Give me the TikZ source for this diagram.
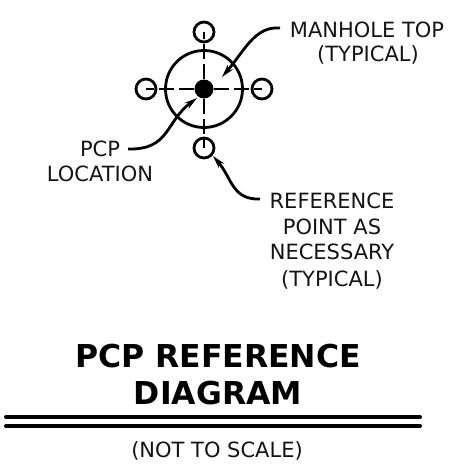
\documentclass[tikz,border=0pt]{standalone}
\usepackage{fontspec}
\setmainfont{DejaVu Sans}
\usetikzlibrary{arrows.meta}
\begin{document}
\begin{tikzpicture}[x=1pt,y=-1pt,
  lbl/.style={inner sep=0pt,font=\fontsize{21pt}{24pt}\selectfont,text=black!92},
  ttl/.style={inner sep=0pt,font=\fontsize{31.5pt}{36pt}\selectfont\bfseries},
  ring/.style={circle,draw,line width=2.8pt,inner sep=0pt,minimum size=#1},
  center line/.style={line width=2.6pt,dash pattern=on 15pt off 5pt on 15pt off 5pt},
  leader/.style={line width=2.8pt,-{Stealth[length=13pt,width=7pt]}},
  rule/.style={line width=4pt,line cap=round}]
\useasboundingbox (0,0) rectangle (448,471);
\node[ring=77pt] (mh) at (204,89) {};
\node[circle,fill=black,inner sep=0pt,minimum size=19pt] (pcp) at (204,89) {};
\node[ring=20pt] (rt) at (204,32) {};
\node[ring=20pt] (rl) at (146,89) {};
\node[ring=20pt] (rr) at (262,89) {};
\node[ring=20pt] (rb) at (204,148) {};
\draw[center line] (pcp) -- (rt.center);
\draw[center line] (pcp) -- (rl.center);
\draw[center line] (pcp) -- (rr.center);
\draw[center line] (pcp) -- (rb.center);
\node[lbl] (m1) at (367,30) {MANHOLE TOP};
\node[lbl] (m2) at (368,55) {(TYPICAL)};
\node[lbl] (p1) at (100,149) {PCP};
\node[lbl] (p2) at (100,174) {LOCATION};
\node[lbl] (r1) at (332,201) {REFERENCE};
\node[lbl] (r2) at (332,227) {POINT AS};
\node[lbl] (r3) at (332,252) {NECESSARY};
\node[lbl] (r4) at (332,280) {(TYPICAL)};
\node[ttl] (t1) at (218,356) {PCP REFERENCE};
\node[ttl] (t2) at (218,393) {DIAGRAM};
\node[lbl] (n) at (217,451) {(NOT TO SCALE)};
\coordinate (mS) at (280,28);
\coordinate (pS) at (128,149);
\coordinate (rS) at (260,199);
\coordinate (mA) at (222,77);
\coordinate (pA) at (197,98);
\coordinate (rA) at (213,156);
\draw[leader] (mS) .. controls (255,26) and (245,50) .. (mA);
\draw[leader] (pS) .. controls (170,150) and (165,122) .. (pA);
\draw[leader] (rS) .. controls (232,200) and (232,178) .. (rA);
\coordinate (la) at (6,417); \coordinate (lb) at (420,417);
\coordinate (lc) at (6,426); \coordinate (ld) at (420,426);
\draw[rule] (la) -- (lb);
\draw[rule] (lc) -- (ld);
\end{tikzpicture}
\end{document}
